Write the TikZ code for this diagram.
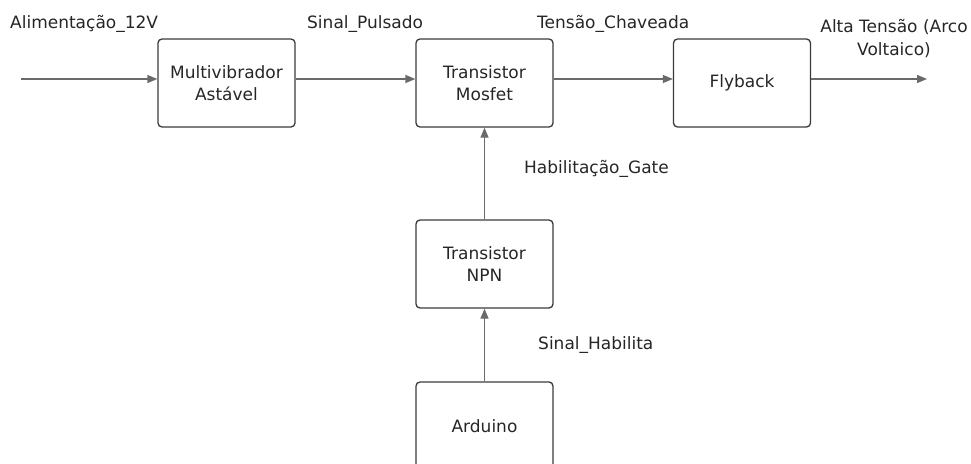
\documentclass[tikz,border=0pt]{standalone}
\usepackage{fontspec}
\setmainfont{DejaVu Sans}
\usepackage{xcolor}
\usetikzlibrary{arrows.meta}
\definecolor{boxline}{HTML}{3A3A3A}
\definecolor{wire}{HTML}{6A6A6A}
\definecolor{txt}{HTML}{262626}

\begin{document}
\begin{tikzpicture}[x=1pt, y=-1pt,
      blk/.style={draw=boxline, line width=1.3pt, rounded corners=4pt,
        minimum width=137pt, minimum height=88pt, align=center, text=txt,
        font=\fontsize{17}{22.5}\selectfont},
      lbl/.style={text=txt, inner sep=0pt, font=\fontsize{17}{23}\selectfont},
      wr/.style={draw=wire, line width=1.3pt, -{Triangle[length=10pt,width=8pt]}}]
      \clip (0,0) rectangle (971,463);
      \node[blk] (multi)   at (226.5,83)  {Multivibrador\\Astável};
      \node[blk] (mosfet)  at (484.5,83)  {Transistor\\Mosfet};
      \node[blk] (flyback) at (742,83)    {Flyback};
      \node[blk] (npn)     at (484.5,264) {Transistor\\NPN};
      \node[blk] (arduino) at (484.5,426) {Arduino};
      \coordinate (in)  at (21,79);
      \coordinate (out) at (927,79);
      \draw[wr] (in) -- ([yshift=4pt]multi.west);
      \draw[wr] ([yshift=4pt]multi.east) -- ([yshift=4pt]mosfet.west);
      \draw[wr] ([yshift=4pt]mosfet.east) -- ([yshift=4pt]flyback.west);
      \draw[wr] ([yshift=4pt]flyback.east) -- (out);
      \draw[wr] (npn) -- (mosfet);
      \draw[wr] (arduino) -- (npn);
      \node[lbl, anchor=west] (alim)  at (10,24)  {Alimentação\_12V};
      \node[lbl, anchor=west] (pulso) at (307,24) {Sinal\_Pulsado};
      \node[lbl, anchor=west] (chav)  at (537,24) {Tensão\_Chaveada};
      \node[lbl, align=center] (alta) at (894,38.5) {Alta Tensão (Arco\\Voltaico)};
      \node[lbl, anchor=west] (gate)  at (524,169) {Habilitação\_Gate};
      \node[lbl, anchor=west] (hab)   at (538,345) {Sinal\_Habilita};
    \end{tikzpicture}
\end{document}
